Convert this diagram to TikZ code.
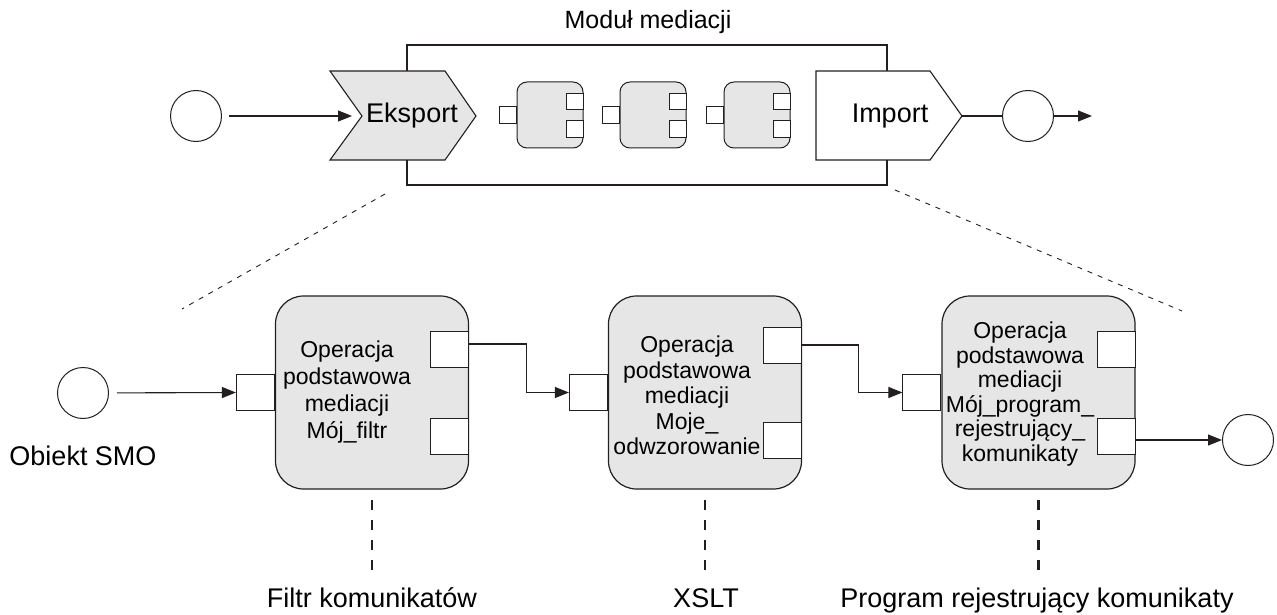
\documentclass[tikz,border=0pt]{standalone}
\usepackage{fontspec}
\setmainfont{Liberation Sans}
\usetikzlibrary{arrows.meta}
\definecolor{boxgray}{RGB}{230,230,230}
\definecolor{linec}{RGB}{35,31,32}
\begin{document}
\begin{tikzpicture}[x=1pt,y=-1pt,
  line/.style={draw=linec,line width=1.1pt},
  arr/.style={line,-{Triangle[length=14pt,width=11pt]}},
  circ/.style={circle,draw=linec,line width=1pt,minimum size=51pt,inner sep=0pt,fill=white},
  bigbox/.style={draw=linec,line width=1.2pt,fill=boxgray,rounded corners=28pt,minimum width=193pt,minimum height=193pt,inner sep=0pt},
  bport/.style={draw=linec,line width=1pt,fill=white,minimum width=38pt,minimum height=36pt,inner sep=0pt,anchor=east},
  sbox/.style={draw=linec,line width=1pt,fill=boxgray,rounded corners=10pt,minimum size=66pt,inner sep=0pt},
  sport/.style={draw=linec,line width=0.9pt,fill=white,minimum width=16.5pt,minimum height=16.5pt,inner sep=0pt,anchor=east},
  boxtext/.style={align=center,inner sep=0pt},
  lbl/.style={font=\fontsize{27}{32}\selectfont,inner sep=0pt,anchor=base},
  thindash/.style={draw=linec,line width=0.9pt,dash pattern=on 5pt off 6pt},
  thickdash/.style={draw=linec,line width=2.4pt,dash pattern=on 10pt off 10pt,dash phase=10pt}
]
\useasboundingbox (0,0) rectangle (1277,615);

% ---------- top row ----------
\node[font=\fontsize{25}{30}\selectfont,inner sep=0pt,anchor=base] (title) at (648,29) {Moduł mediacji};
\draw[line] (407,45) rectangle (887,185);

\draw[line,fill=boxgray] (330,71) -- (445,71) -- (476,116) -- (445,160) -- (330,160) -- (362,116) -- cycle;
\coordinate (eksin) at (362,116);
\node[lbl] (eks) at (412,123) {Eksport};

\draw[line,fill=white] (816,71) -- (930,71) -- (962,116) -- (930,160) -- (816,160) -- cycle;
\coordinate (impout) at (962,116);
\node[lbl] (imp) at (890,123) {Import};

\node[circ] (c1) at (196,116) {};
\draw[arr,shorten <=7pt,shorten >=10pt] (c1) -- (eksin);

\node[circ] (c2) at (1028,116) {};
\draw[line] (impout) -- (c2);
\coordinate (c2end) at (1092,116);
\draw[arr] (c2) -- (c2end);

\foreach \n/\x in {s1/550,s2/653,s3/757}{
  \node[sbox] (\n) at (\x,115) {};
  \node[sport] (\n in) at (\n.west) {};
  \node[sport] (\n a) at ([yshift=13.5pt]\n.east) {};
  \node[sport] (\n b) at ([yshift=-14pt]\n.east) {};
}

% ---------- dashed zoom lines ----------
\coordinate (d1a) at (385,194);
\coordinate (d1b) at (182,309);
\coordinate (d2a) at (895,190);
\coordinate (d2b) at (1182,311);
\draw[thindash] (d1a) -- (d1b);
\draw[thindash] (d2a) -- (d2b);

% ---------- bottom row ----------
\node[bigbox] (b1) at (372,392.5) {};
\node[bigbox] (b2) at (705,392.5) {};
\node[bigbox] (b3) at (1038.5,392.5) {};

\node[bport] (p1in) at (b1.west) {};
\node[bport] (p1a) at ([yshift=43pt]b1.east) {};
\node[bport] (p1b) at ([yshift=-43.5pt]b1.east) {};
\node[bport] (p2in) at (b2.west) {};
\node[bport] (p2a) at ([yshift=47.5pt]b2.east) {};
\node[bport] (p2b) at ([yshift=-48pt]b2.east) {};
\node[bport] (p3in) at (b3.west) {};
\node[bport] (p3a) at ([yshift=43pt]b3.east) {};
\node[bport] (p3b) at ([yshift=-44pt]b3.east) {};

\node[boxtext,font=\fontsize{23}{27}\selectfont] (t1) at (347,392) {Operacja\\podstawowa\\mediacji\\Mój\_filtr};
\node[boxtext,font=\fontsize{23}{25.5}\selectfont] (t2) at (687,395.5) {Operacja\\podstawowa\\mediacji\\Moje\_\\odwzorowanie};
\node[boxtext,font=\fontsize{23}{24.6}\selectfont] (t3) at (1020,394) {Operacja\\podstawowa\\mediacji\\Mój\_program\_\\rejestrujący\_\\komunikaty};

\node[circ] (c3) at (83,393) {};
\node[lbl] (smo) at (83,465) {Obiekt SMO};
\draw[arr,shorten <=8pt] (c3) -- (p1in.west);

\draw[arr] ([yshift=5.5pt]p1a.east) -- ++(57.5,0) |- (p2in.west);
\draw[arr] (p2a.east) -- ++(56,0) |- (p3in.west);

\node[circ] (c4) at (1248,440) {};
\draw[arr] ([yshift=-3.5pt]p3b.east) -- (c4);

\node[lbl] (l1) at (372,607) {Filtr komunikatów};
\node[lbl] (l2) at (706,607) {XSLT};
\node[lbl] (l3) at (1037,607) {Program rejestrujący komunikaty};

\draw[thickdash,shorten >=15pt] (b1.south) -- (b1.south |- l1.north);
\draw[thickdash,shorten >=15pt] (b2.south) -- (b2.south |- l2.north);
\draw[thickdash,shorten >=15pt] (b3.south) -- (b3.south |- l3.north);
\end{tikzpicture}
\end{document}
